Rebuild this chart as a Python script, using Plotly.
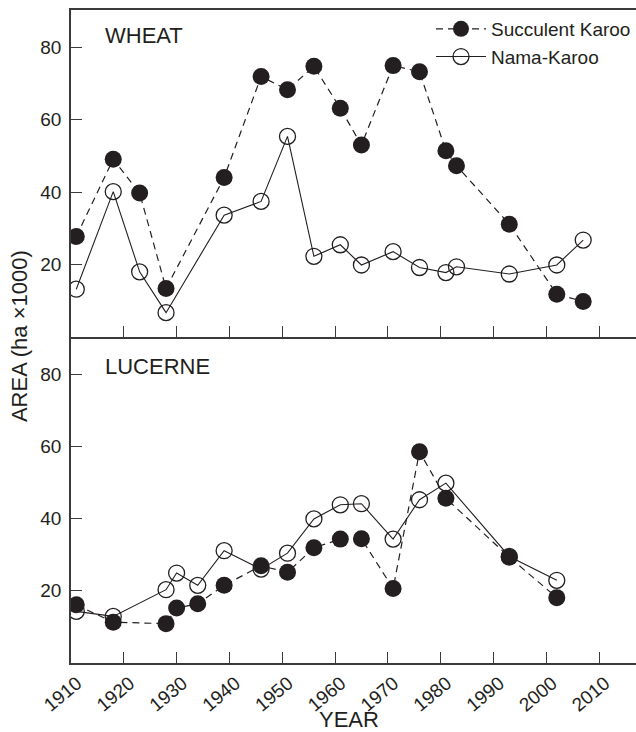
import plotly.graph_objects as go
from plotly.subplots import make_subplots

# WHEAT
wheat_years = [1911, 1918, 1923, 1928, 1939, 1946, 1951, 1956, 1961, 1965, 1971, 1976, 1981, 1983, 1993, 2002, 2007]
wheat_succulent = [27.7, 49.1, 39.7, 13.3, 44.0, 72.0, 68.3, 74.8, 63.2, 53.0, 75.0, 73.3, 51.4, 47.3, 31.1, 11.7, 9.7]
wheat_nama = [13.1, 40.1, 17.9, 6.6, 33.6, 37.4, 55.4, 22.2, 25.4, 19.8, 23.5, 19.1, 17.7, 19.3, 17.3, 19.8, 26.7]

# LUCERNE
lucerne_years = [1911, 1918, 1928, 1930, 1934, 1939, 1946, 1951, 1956, 1961, 1965, 1971, 1976, 1981, 1993, 2002]
lucerne_succulent = [16.1, 11.3, 10.9, 15.2, 16.4, 21.5, 26.9, 25.1, 31.9, 34.3, 34.4, 20.6, 58.5, 45.6, 29.3, 18.1]
lucerne_nama = [14.3, 12.9, 20.3, 24.9, 21.5, 31.1, 26.0, 30.4, 39.9, 43.8, 44.1, 34.3, 45.2, 49.8, 29.5, 22.9]

x_ticks = [1910, 1920, 1930, 1940, 1950, 1960, 1970, 1980, 1990, 2000, 2010]
y_ticks = [20, 40, 60, 80]

INK = "#231f20"
FONT = "Liberation Sans, Arial, sans-serif"

fig = make_subplots(rows=2, cols=1, shared_xaxes=True, vertical_spacing=0)

filled = dict(symbol="circle", size=17, color=INK, line=dict(width=0))
hollow = dict(symbol="circle-open", size=16, color=INK, line=dict(width=1.3))
dash_line = dict(color=INK, width=1.2, dash="7px,5px")
solid_line = dict(color=INK, width=1.1)

fig.add_trace(go.Scatter(x=wheat_years, y=wheat_succulent, mode="lines+markers", name="Succulent Karoo",
                         line=dash_line, marker=filled, legendgroup="s"), row=1, col=1)
fig.add_trace(go.Scatter(x=wheat_years, y=wheat_nama, mode="lines+markers", name="Nama-Karoo",
                         line=solid_line, marker=hollow, legendgroup="n"), row=1, col=1)
fig.add_trace(go.Scatter(x=lucerne_years, y=lucerne_succulent, mode="lines+markers", name="Succulent Karoo",
                         line=dash_line, marker=filled, legendgroup="s", showlegend=False), row=2, col=1)
fig.add_trace(go.Scatter(x=lucerne_years, y=lucerne_nama, mode="lines+markers", name="Nama-Karoo",
                         line=solid_line, marker=hollow, legendgroup="n", showlegend=False), row=2, col=1)

axis_common = dict(showgrid=False, zeroline=False, showline=True, linecolor="#3a3a3a", linewidth=1.5,
                   ticks="inside", tickcolor="#3a3a3a", tickwidth=1.3,
                   tickfont=dict(family=FONT, size=19, color=INK))

fig.update_xaxes(range=[1910, 2017], tickvals=x_ticks, ticklen=11, automargin=False, **axis_common)
fig.update_xaxes(showticklabels=False, mirror=True, row=1, col=1)
fig.update_xaxes(showticklabels=True, mirror=False, tickangle=-40, ticklabelshift=6, row=2, col=1)
fig.update_yaxes(range=[0, 90.4], tickvals=y_ticks, ticklen=11, ticklabelstandoff=4, automargin=False, **axis_common)
fig.update_yaxes(domain=[0.5, 1.0], row=1, col=1)
fig.update_yaxes(domain=[0.0, 0.5], row=2, col=1)

fig.add_annotation(text="WHEAT", x=1916.0, y=83.3, xref="x", yref="y", xanchor="left", yanchor="middle",
                   showarrow=False, font=dict(family=FONT, size=22, color=INK))
fig.add_annotation(text="LUCERNE", x=1916.0, y=82.2, xref="x2", yref="y2", xanchor="left", yanchor="middle",
                   showarrow=False, font=dict(family=FONT, size=22, color=INK))
fig.add_annotation(text="AREA (ha \u00d71000)", x=-0.091, y=0.5, xref="paper", yref="paper",
                   xanchor="center", yanchor="middle", textangle=-90, showarrow=False,
                   font=dict(family=FONT, size=22, color=INK))
fig.add_annotation(text="YEAR", x=0.492, y=-0.086, xref="paper", yref="paper",
                   xanchor="center", yanchor="middle", showarrow=False,
                   font=dict(family=FONT, size=22, color=INK))

fig.update_layout(
    width=636, height=732,
    margin=dict(l=71, r=0, t=10, b=69, autoexpand=False),
    plot_bgcolor="white", paper_bgcolor="white",
    showlegend=True,
    legend=dict(x=1.0, y=1.0, xanchor="right", yanchor="top", bgcolor="rgba(0,0,0,0)",
                font=dict(family=FONT, size=19, color=INK), itemwidth=50, tracegroupgap=0),
)

fig.write_html("out.html", config={"displayModeBar": False},
               post_script="document.body.style.margin='0';document.body.style.overflow='hidden';")
